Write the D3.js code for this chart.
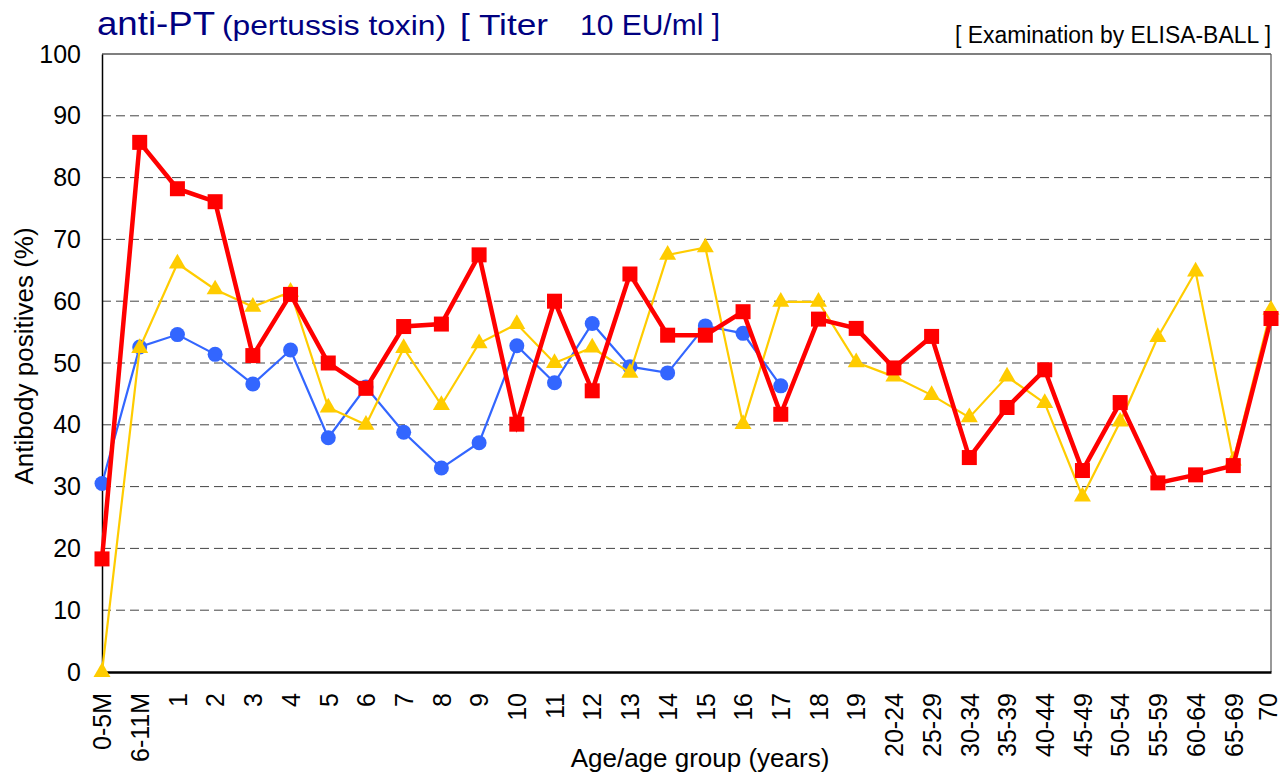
<!DOCTYPE html>
<html>
<head>
<meta charset="utf-8">
<style>
  body { margin: 0; background: #fff; font-family: "Liberation Sans", Arial, sans-serif; }
  .grid line { stroke: #444; stroke-dasharray: 9,5; stroke-width: 1; }
  .tick text { font-family: "Liberation Sans", Arial, sans-serif; }
</style>
<script src="https://cdn.jsdelivr.net/npm/d3@7"></script>
</head>
<body>
<svg id="chart" width="1282" height="776"></svg>
<script>
// categories (age / age group)
var ages = ['0-5M', '6-11M', '1', '2', '3', '4', '5', '6', '7', '8', '9', '10', '11', '12', '13', '14', '15', '16', '17', '18', '19',
  '20-24', '25-29', '30-34', '35-39', '40-44', '45-49', '50-54', '55-59', '60-64', '65-69', '70'];

// red series (thick line, squares)
var redVals = [18.3, 85.7, 78.2, 76.1, 51.2, 61.1, 50.0, 45.9, 55.9, 56.3, 67.5, 40.1, 60.0, 45.5, 64.4, 54.5, 54.5, 58.3, 41.7, 57.1, 55.6,
  49.2, 54.3, 34.7, 42.8, 48.9, 32.6, 43.6, 30.6, 31.9, 33.4, 57.2];
// yellow series (triangles)
var yellowVals = [0, 52.4, 66.1, 61.9, 59.1, 61.5, 42.8, 40.0, 52.4, 43.2, 53.2, 56.3, 50.0, 52.5, 48.4, 67.5, 68.7, 40.1, 59.9, 59.9, 50.1,
  47.8, 44.8, 41.2, 47.8, 43.5, 28.4, 40.5, 54.2, 64.8, 34.2, 58.6];
// blue series (circles), only up to 17
var blueVals = [30.5, 52.6, 54.6, 51.4, 46.6, 52.1, 37.9, 46.1, 38.8, 33.0, 37.1, 52.8, 46.8, 56.4, 49.4, 48.4, 56.0, 54.8, 46.3];

var yTicks = [0, 10, 20, 30, 40, 50, 60, 70, 80, 90, 100];

var margin = { top: 54, left: 102, right: 11, bottom: 104 };
var W = 1282, H = 776;
var svg = d3.select('#chart');

var x = d3.scalePoint().domain(ages).range([margin.left, W - margin.right]);
var y = d3.scaleLinear().domain([0, 100]).range([H - margin.bottom, margin.top]);

// gridlines
svg.append('g').attr('class', 'grid')
  .selectAll('line').data(yTicks.filter(d => d > 0 && d < 100)).enter().append('line')
  .attr('x1', margin.left).attr('x2', W - margin.right)
  .attr('y1', d => y(d)).attr('y2', d => y(d));

// frame
svg.append('line').attr('x1', margin.left).attr('x2', W - margin.right)
  .attr('y1', y(100)).attr('y2', y(100)).attr('stroke', '#000').attr('stroke-width', 1.2);
svg.append('line').attr('x1', W - margin.right).attr('x2', W - margin.right)
  .attr('y1', y(100)).attr('y2', y(0)).attr('stroke', '#555').attr('stroke-width', 1.2);

// y axis
var yAxis = svg.append('g')
  .attr('transform', 'translate(' + margin.left + ',0)')
  .call(d3.axisLeft(y).tickValues(yTicks).tickSize(0).tickPadding(21));
yAxis.select('.domain').attr('stroke', '#000').attr('stroke-width', 1.5);
yAxis.selectAll('text').attr('font-size', 25).attr('fill', '#000');

// x axis
var xAxis = svg.append('g')
  .attr('transform', 'translate(0,' + y(0) + ')')
  .call(d3.axisBottom(x).tickSize(0).tickPadding(0));
xAxis.select('.domain').attr('stroke', '#000').attr('stroke-width', 2.5);
xAxis.selectAll('text')
  .attr('font-size', 25).attr('fill', '#000')
  .attr('transform', 'rotate(-90)')
  .attr('text-anchor', 'end')
  .attr('x', -21)
  .attr('y', (d, i) => i === ages.length - 1 ? -3 : 0)  // keep last label inside the page
  .attr('dy', '0.35em');

// series
function drawLine(vals, color, width) {
  var pts = vals.map((v, i) => [x(ages[i]), y(v)]);
  svg.append('path').datum(pts)
    .attr('fill', 'none').attr('stroke', color).attr('stroke-width', width)
    .attr('stroke-linejoin', 'miter')
    .attr('d', d3.line());
  return pts;
}

var bluePts = drawLine(blueVals, '#3366ff', 2.2);
svg.append('g').selectAll('circle').data(bluePts).enter().append('circle')
  .attr('cx', d => d[0]).attr('cy', d => d[1]).attr('r', 7.5).attr('fill', '#3366ff');

var yellowPts = drawLine(yellowVals, '#ffcc00', 2.2);
var tri = d3.symbol().type(d3.symbolTriangle).size(125);
svg.append('g').selectAll('path').data(yellowPts).enter().append('path')
  .attr('d', tri).attr('transform', d => 'translate(' + d[0] + ',' + d[1] + ')')
  .attr('fill', '#ffcc00');

var redPts = drawLine(redVals, '#ff0000', 4.5);
svg.append('g').selectAll('rect').data(redPts).enter().append('rect')
  .attr('x', d => d[0] - 7.5).attr('y', d => d[1] - 7.5).attr('width', 15).attr('height', 15)
  .attr('fill', '#ff0000');

// titles
var titleParts = [
  { t: 'anti-PT', x: 97, w: 118, s: 34 },
  { t: '(pertussis toxin)', x: 222, w: 224, s: 28 },
  { t: '[ Titer', x: 460, w: 88, s: 29 },
  { t: '10 EU/ml ]', x: 580, w: 140, s: 29 }
];
svg.append('g').selectAll('text').data(titleParts).enter().append('text')
  .attr('x', d => d.x).attr('y', 35).attr('fill', '#000080')
  .attr('font-size', d => d.s)
  .attr('textLength', d => d.w).attr('lengthAdjust', 'spacingAndGlyphs')
  .text(d => d.t);

svg.append('text').attr('x', 955).attr('y', 43)
  .attr('font-size', 23).attr('fill', '#000')
  .attr('textLength', 316).attr('lengthAdjust', 'spacingAndGlyphs')
  .text('[ Examination by ELISA-BALL ]');

svg.append('text').attr('transform', 'translate(33,356) rotate(-90)')
  .attr('text-anchor', 'middle').attr('font-size', 26).attr('fill', '#000')
  .text('Antibody positives (%)');

svg.append('text').attr('x', 700).attr('y', 767).attr('text-anchor', 'middle')
  .attr('font-size', 26).attr('fill', '#000').text('Age/age group (years)');
</script>
</body>
</html>
